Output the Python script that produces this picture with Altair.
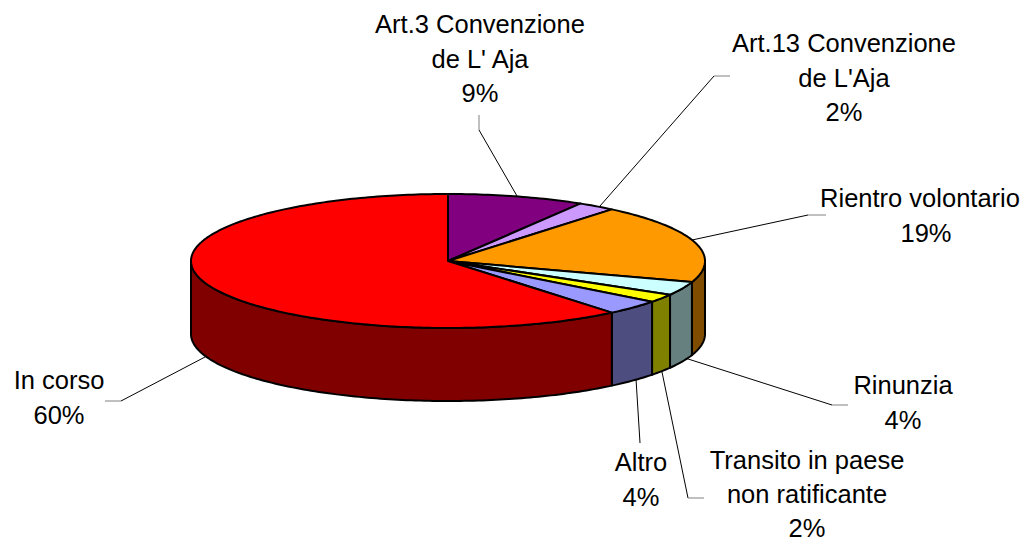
import math
import altair as alt
import pandas as pd

# Slice values (percent of the pie), clockwise from 12 o'clock
categories = ["Art.3 Convenzione de L' Aja", "Art.13 Convenzione de L'Aja", "Rientro volontario",
              "Rinunzia", "Transito in paese non ratificante", "Altro", "In corso"]
shares = [8.6, 2.4, 19.1, 3.3, 2.0, 3.6, 61.0]
top_colors = ["#800080", "#CC99FF", "#FF9900", "#CCFFFF", "#FFFF00", "#9999FF", "#FF0000"]
side_colors = ["#400040", "#664D80", "#804D00", "#668080", "#808000", "#4D4D80", "#800000"]

# Label text lines
label_lines = [
    ["Art.3 Convenzione", "de L' Aja", "9%"],
    ["Art.13 Convenzione", "de L'Aja", "2%"],
    ["Rientro volontario", "19%"],
    ["Rinunzia", "4%"],
    ["Transito in paese", "non ratificante", "2%"],
    ["Altro", "4%"],
    ["In corso", "60%"],
]
label_x = [480, 844, 926, 903, 807, 641, 59]
label_y = [25, 44, 199, 386, 460.5, 463, 381]
line_gaps = [34.5, 34.5, 34.5, 34.5, 34, 34.5, 34.5]
line_shift = {"Rientro volontario": -6}  # keeps the long line inside the drawing area

# Leader lines: black run from the slice, then a grey stub to the label
leader_black = [
    [(517, 196), (479, 130)],
    [(600, 206), (714, 76)],
    [(692, 240), (808, 215)],
    [(685, 358), (832, 405)],
    [(662, 372), (688, 498)],
    [(636, 379), (640, 443)],
    [(205, 357), (121, 401)],
]
leader_grey = [
    [(479, 130), (479, 115)],
    [(714, 76), (730, 76)],
    [(808, 215), (826, 215)],
    [(832, 405), (848, 405)],
    [(688, 498), (704, 498)],
    None,
    [(121, 401), (105, 401)],
]

CX, CY, RX, RY, DEPTH = 448, 261, 257, 67, 73


def rim(deg, drop=0):
    t = math.radians(deg)
    return [CX + RX * math.sin(t), CY - RY * math.cos(t) + drop]


def span(a, b):
    n = max(2, int(abs(b - a)) + 1)
    return [a + (b - a) * i / n for i in range(n + 1)]


features = []


def add(coords, fill, kind="Polygon"):
    geometry = {"type": kind, "coordinates": [coords] if kind == "Polygon" else coords}
    features.append({"type": "Feature", "geometry": geometry, "properties": {"fill": fill}})


start = 0.0
wedges = []
for share, top, side in zip(shares, top_colors, side_colors):
    end = start + share * 3.6
    wedges.append((start, end, top))
    a, b = max(start, 90.0), min(end, 270.0)
    if b > a:
        front = [rim(d) for d in span(a, b)]
        back = [rim(d, DEPTH) for d in span(b, a)]
        add(front + back + [front[0]], side)
    start = end

for a, b, top in wedges:
    add([[CX, CY]] + [rim(d) for d in span(a, b)] + [[CX, CY]], top)

data = alt.InlineData(values={"type": "FeatureCollection", "features": features},
                      format=alt.DataFormat(type="json", property="features"))
projection = alt.Projection(type="identity", scale=1, translate=[-8, -8])

pie = alt.Chart(data).mark_geoshape(stroke="black", strokeWidth=2, strokeJoin="round").encode(
    fill=alt.Fill("properties.fill:N", scale=None)
).project(**projection.to_dict())


def lines(segments, color):
    feats = [{"type": "Feature", "properties": {}, "geometry": {"type": "LineString",
              "coordinates": [list(p) for p in s]}} for s in segments if s]
    d = alt.InlineData(values={"type": "FeatureCollection", "features": feats},
                       format=alt.DataFormat(type="json", property="features"))
    return alt.Chart(d).mark_geoshape(filled=False, stroke=color, strokeWidth=1).project(**projection.to_dict())


rows = []
for txts, x, y, gap in zip(label_lines, label_x, label_y, line_gaps):
    for i, txt in enumerate(txts):
        rows.append({"text": txt, "lon": x + line_shift.get(txt, 0), "lat": y + i * gap})

labels = alt.Chart(pd.DataFrame(rows)).mark_text(
    font="Liberation Sans", fontSize=25.5, color="black", align="center", baseline="middle"
).encode(longitude="lon:Q", latitude="lat:Q", text="text:N").project(**projection.to_dict())

chart = alt.layer(lines(leader_black, "#000000"), lines(leader_grey, "#808080"), pie, labels).properties(
    width=1012, height=532, padding=0, autosize=alt.AutoSizeParams(type="none"),
    view=alt.ViewConfig(stroke=None)
).configure(background="white")

chart.save("out.html", embed_options={"renderer": "svg", "actions": False})
